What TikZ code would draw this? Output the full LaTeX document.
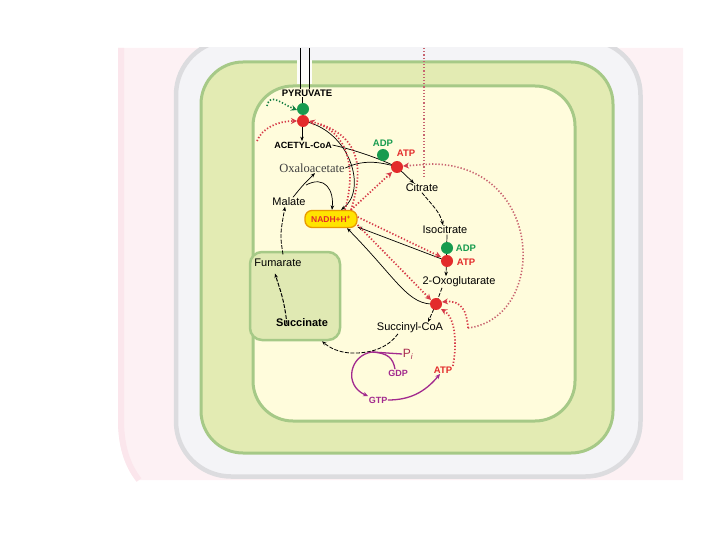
\documentclass[tikz,border=0pt]{standalone}
\usepackage{fontspec}
\setmainfont{Liberation Sans}
\newfontfamily\serifft{Liberation Serif}
\usetikzlibrary{arrows.meta,calc}
\definecolor{pinkbg}{HTML}{FDF1F4}
\definecolor{pinkband}{HTML}{FBE6EC}
\definecolor{greyfill}{HTML}{F4F4F7}
\definecolor{greyline}{HTML}{DCDCDF}
\definecolor{memfill}{HTML}{E3EBB3}
\definecolor{memline}{HTML}{A6C987}
\definecolor{matfill}{HTML}{FFFCDC}
\definecolor{boxfill}{HTML}{E0E9B3}
\definecolor{dgreen}{HTML}{179B4F}
\definecolor{dred}{HTML}{E32B2B}
\definecolor{dotred}{HTML}{D63A48}
\definecolor{dotbrown}{HTML}{C86470}
\definecolor{purp}{HTML}{A22A8E}
\definecolor{pitext}{HTML}{A8284E}
\definecolor{nadhfill}{HTML}{FFE400}
\definecolor{nadhline}{HTML}{E89A00}
\begin{document}
\begin{tikzpicture}[x=1pt,y=-1pt,
  txt/.style={font=\fontsize{11}{12}\selectfont, inner sep=0.5pt},
  sertxt/.style={font=\serifft\fontsize{12.5}{13}\selectfont, inner sep=0.5pt, text=black!75},
  btxt/.style={font=\bfseries\fontsize{9}{10}\selectfont, inner sep=0.5pt},
  bbig/.style={font=\bfseries\fontsize{11}{12}\selectfont, inner sep=0.5pt},
  gtxt/.style={font=\bfseries\fontsize{9.5}{10}\selectfont, inner sep=0.5pt, text=dgreen},
  rtxt/.style={font=\bfseries\fontsize{9.5}{10}\selectfont, inner sep=0.5pt, text=dred},
  ptxt/.style={font=\bfseries\fontsize{9}{10}\selectfont, inner sep=0.5pt, text=purp},
  pitxt/.style={font=\fontsize{12}{13}\selectfont, inner sep=0.5pt, text=pitext},
  gdot/.style={circle, fill=dgreen, minimum size=12pt, inner sep=0pt},
  rdot/.style={circle, fill=dred, minimum size=12pt, inner sep=0pt},
  nadhbox/.style={rounded corners=7pt, fill=nadhfill, draw=nadhline, line width=1.3pt,
     minimum width=52pt, minimum height=17pt, inner sep=0pt, text=dred,
     font=\bfseries\fontsize{8.5}{9}\selectfont},
  sbox/.style={rounded corners=12pt, fill=boxfill, draw=memline, line width=2.5pt,
     minimum width=90pt, minimum height=88pt, inner sep=0pt},
  blk/.style={black, line width=0.7pt, -{Stealth[length=4.5pt,width=3.5pt]}},
  blkline/.style={black, line width=0.7pt},
  blkd/.style={black, line width=0.8pt, dash pattern=on 4pt off 1.5pt, -{Stealth[length=4.5pt,width=3.5pt]}},
  mag/.style={purp, line width=1.3pt},
  magarr/.style={purp, line width=1.3pt, -{Stealth[length=5pt,width=4.5pt]}},
  rdl/.style={dotred, line width=1.7pt, dash pattern=on 1.3pt off 1.9pt, -{Stealth[length=6pt,width=6pt,inset=2pt]}},
  bdl/.style={dotbrown, line width=1.6pt, dash pattern=on 1.3pt off 1.9pt},
  bdla/.style={bdl, -{Stealth[length=6pt,width=6pt,inset=2pt,color=dotred]}},
  gdl/.style={dgreen!80!black, line width=1.6pt, dash pattern=on 1.3pt off 1.9pt, -{Stealth[length=6pt,width=6pt,inset=2pt]}}
]
\useasboundingbox (0,0) rectangle (720,540);
% background regions
\fill[pinkbg] (118,48) -- (683,48) -- (683,480) -- (136,480) .. controls (124,465) and (118,445) .. (118,420) -- cycle;
\draw[pinkband, line width=6pt] (121,48) -- (121,420) .. controls (121,445) and (127,465) .. (139,480);
\begin{scope}
  \clip (0,48) rectangle (720,540);
  \draw[fill=greyfill, draw=greyline, line width=4.5pt, rounded corners=55pt] (176,40) rectangle (640.5,476.5);
\end{scope}
\draw[fill=memfill, draw=memline, line width=3pt, rounded corners=42pt] (201,62) rectangle (613,453);
\draw[fill=matfill, draw=memline, line width=3pt, rounded corners=40pt] (253,86) rectangle (575,421);
\fill[white!92!memfill] (297,60.5) rectangle (312,84.5);
\node[sbox] (box) at (295,296) {};

% labels
\node[btxt, font=\bfseries\fontsize{9.5}{10}\selectfont] (pyr) at (307,93) {PYRUVATE};
\node[btxt] (acetyl) at (303,145) {ACETYL-CoA};
\node[sertxt] (oxa) at (312,168) {Oxaloacetate};
\node[txt] (mal) at (289,202) {Malate};
\node[nadhbox] (nadh) at (331,219) {NADH+H\textsuperscript{+}};
\node[txt] (cit) at (422,188) {Citrate};
\node[txt] (iso) at (445,230) {Isocitrate};
\node[txt] (oxo) at (459,282) {2-Oxoglutarate};
\node[txt] (suc) at (410,328) {Succinyl-CoA};
\node[txt] (fum) at (278,263) {Fumarate};
\node[bbig] (succ) at (302,323) {Succinate};
\node[gtxt] (adp1) at (383,143) {ADP};
\node[rtxt] (atp1) at (406,153) {ATP};
\node[gtxt] (adp2) at (466,248) {ADP};
\node[rtxt] (atp2) at (466,262) {ATP};
\node[pitxt] (pi) at (408,354) {P\textsubscript{\itshape i}};
\node[ptxt] (gdp) at (398,373) {GDP};
\node[rtxt] (atp3) at (443,370) {ATP};
\node[ptxt] (gtp) at (378,400) {GTP};

% coordinates for free ends
\coordinate (t1) at (300,48);
\coordinate (t2) at (309,48);
\coordinate (xp) at (302,0);
\coordinate (mb) at (306,185);
\coordinate (mj) at (372,352);
\coordinate (g0) at (267,106);
\coordinate (r0) at (257,141);
\coordinate (sf) at (468,328);
\coordinate (v0) at (424,48);
\coordinate (v1) at (424,178);

% black connectors
\draw[blkline] (t1) -- (pyr.north -| t1);
\draw[blkline] (t2) -- (pyr.north -| t2);
\draw[blk] (pyr.south -| xp) -- (acetyl.north -| xp);
\draw[blk] (303,121) .. controls (350,130) and (368,190) .. ([xshift=10pt]nadh.north);
\draw[blkline] (acetyl.east) .. controls (355,150) and (378,158) .. (397,167);
\draw[blkline] (oxa.east) .. controls (362,160) and (378,161) .. (397,167);
\draw[blk] (397,167) -- ([xshift=-8pt]cit.north);
\draw[blk] ([xshift=4pt]mal.north) .. controls (303,185) .. ([xshift=3pt]oxa.south);
\draw[blk] (mb) .. controls (325,175) and (334,190) .. ([xshift=1pt]nadh.north);
\draw[blk] (447,261) -- ([yshift=-8pt]nadh.east);
\draw[blk] (436,304) .. controls (408,306) and (398,280) .. ([xshift=16pt]nadh.south);
\draw[blk] ([xshift=2pt]iso.south) -- ([xshift=-13pt]oxo.north);
\draw[blkd] (cit.south) .. controls (432,205) and (440,212) .. ([xshift=-2pt]iso.north);
\draw[blkd, -] ([xshift=-17pt]oxo.south) -- (436,304);
\draw[blkd] (436,304) -- ([xshift=18pt]suc.north);
\draw[blkd] ([xshift=-12pt]suc.south) .. controls (390,345) and (375,354) .. (350,353) .. controls (338,352) and (330,348) .. ([xshift=27pt]box.south);
\draw[blkd, line width=1pt] ([shift={(-15pt,-6pt)}]succ.north) .. controls (284,298) and (280,290) .. ([shift={(-3pt,-6pt)}]fum.south);
\draw[blkd] ([shift={(5pt,4pt)}]fum.north) .. controls (280,235) .. ([xshift=-4pt]mal.south);

% magenta
\draw[mag] (mj) -- (pi.west);
\draw[mag] ([xshift=-3pt]gdp.north) .. controls (393,358) and (388,353) .. (mj);
\draw[magarr] (mj) .. controls (350,355) and (343,385) .. (gtp.north west);
\draw[magarr] (gtp.east) .. controls (410,400) and (425,392) .. ([xshift=-3pt]atp3.south);

% dotted regulation
\draw[gdl] (g0) .. controls (270,92) and (282,104) .. (297,110);
\draw[rdl] (r0) .. controls (262,128) and (278,121) .. (297,121);
\draw[rdl] ([xshift=14pt]nadh.north) .. controls (356,170) and (350,132) .. (309,121);
\draw[rdl, -] ([xshift=20pt]nadh.north) .. controls (364,168) and (360,138) .. (320,124);
\draw[rdl] ([xshift=20pt]nadh.north) -- (392,172);
\draw[rdl] ([yshift=2pt]nadh.east) -- (441,257);
\draw[rdl] ([yshift=-6pt]nadh.east) -- (431,300);
\draw[bdl] (v0) -- (v1);
\draw[bdla] (sf) .. controls (548,318) and (545,165) .. (432,164) -- (403,166);
\draw[rdl] (sf) .. controls (467,312) and (462,300) .. (442,302);
\draw[rdl] (atp3.north east) .. controls (457,345) and (456,318) .. (441,309);

% enzyme dots
\node[gdot] (pdhg) at (303,109) {};
\node[rdot] (pdh) at (303,121) {};
\node[gdot] (csg) at (383,155) {};
\node[rdot] (cs) at (397,167) {};
\node[gdot] (idhg) at (447,248) {};
\node[rdot] (idh) at (447,261) {};
\node[rdot] (ogdh) at (436,304) {};
\end{tikzpicture}
\end{document}
